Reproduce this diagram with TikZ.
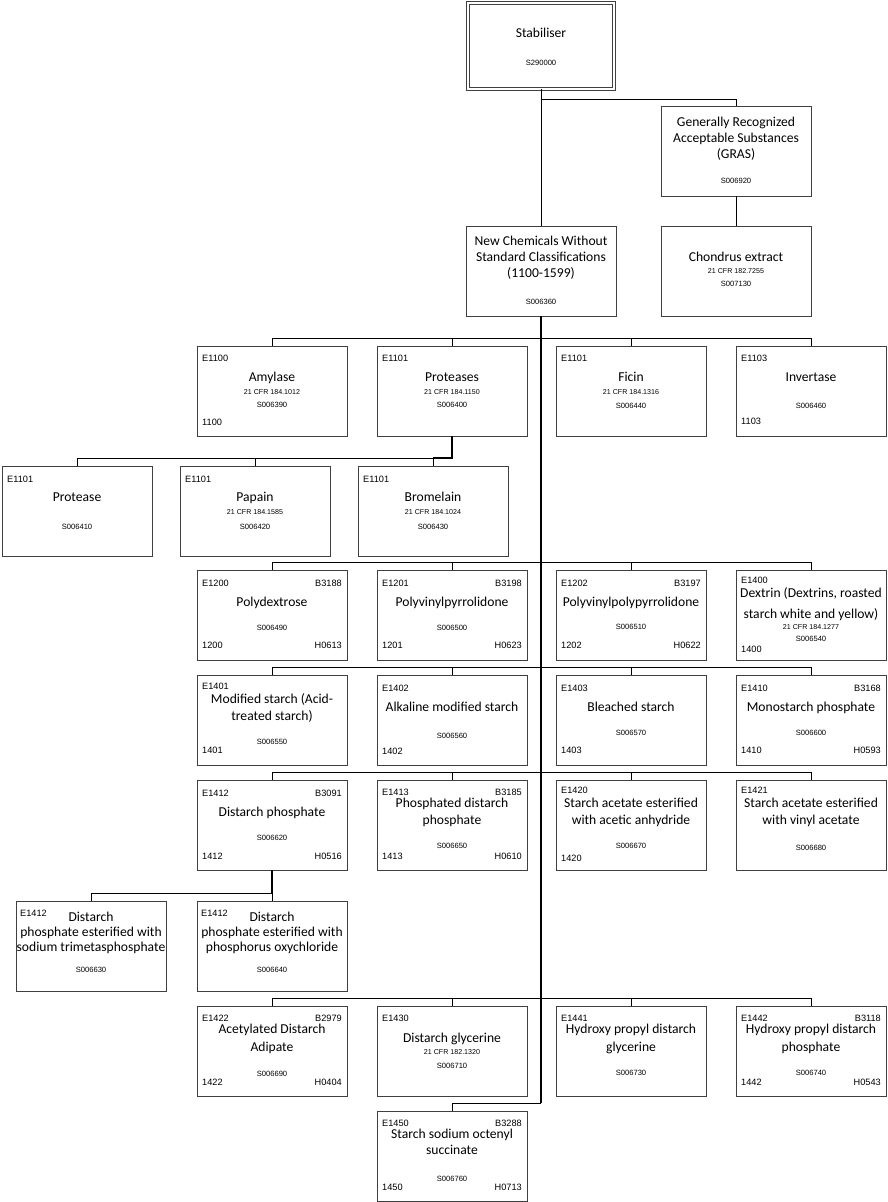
\documentclass[tikz,border=0pt]{standalone}
\usepackage{fontspec}
\newfontfamily\carl{Carlito}
\newfontfamily\ars{Liberation Sans}
\usetikzlibrary{calc}
\tikzset{
  cb/.style={draw=black!75, line width=0.9pt, fill=white, minimum width=150pt, minimum height=90pt, inner sep=0pt, outer sep=0pt, anchor=north west},
  conn/.style={draw=black, line width=0.9pt},
  trunk/.style={draw=black, line width=1.9pt},
  nm/.style={font=\carl\fontsize{13.6}{16}\selectfont, inner sep=0pt, text height=8.7pt, text depth=0pt, text=black},
  cd/.style={font=\ars\fontsize{9.2}{11}\selectfont, inner sep=0pt, text height=6.5pt, text depth=0pt},
  sc/.style={font=\ars\fontsize{7.6}{9}\selectfont, inner sep=0pt, text height=5.4pt, text depth=0pt},
  cf/.style={font=\ars\fontsize{7.1}{8}\selectfont, inner sep=0pt, text height=5.1pt, text depth=0pt}
}
\newcommand\bxBox[3]{\node[cb] (#1) at (#2,#3) {};}
\newcommand\bxTL[3]{\node[cd,anchor=west] (#1-tl) at ([shift={(5pt,-#2pt)}]#1.north west) {#3};}
\newcommand\bxTR[3]{\node[cd,anchor=east] (#1-tr) at ([shift={(-5pt,-#2pt)}]#1.north east) {#3};}
\newcommand\bxBL[3]{\node[cd,anchor=west] (#1-bl) at ([shift={(5pt,-#2pt)}]#1.north west) {#3};}
\newcommand\bxBR[3]{\node[cd,anchor=east] (#1-br) at ([shift={(-5pt,-#2pt)}]#1.north east) {#3};}
\newcommand\bxNm[4]{\node[nm] (#1-n#2) at ([yshift=-#3pt]#1.north) {#4};}
\newcommand\bxSc[3]{\node[sc] (#1-s) at ([yshift=-#2pt]#1.north) {#3};}
\newcommand\bxCf[3]{\node[cf] (#1-c) at ([yshift=-#2pt]#1.north) {#3};}
\begin{document}
\begin{tikzpicture}[x=1pt,y=-1pt]
\useasboundingbox (0,0) rectangle (887,1202);
\fill[white] (0,0) rectangle (887,1202);

% top
\node[draw=black!75, double, double distance=1.8pt, line width=0.9pt, fill=white, minimum width=146.4pt, minimum height=86.4pt, inner sep=0pt, outer sep=0pt] (stab) at (541,46) {};
\node[nm] (stab-n) at (541,33) {Stabiliser};
\node[sc] (stab-s) at (541,63) {S290000};

\node[cb] (gras) at (661,106) {};
\bxNm{gras}{1}{16}{Generally Recognized}
\bxNm{gras}{2}{32}{Acceptable Substances}
\bxNm{gras}{3}{48}{(GRAS)}
\bxSc{gras}{75}{S006920}

\node[cb] (chon) at (661,226) {};
\bxNm{chon}{1}{31}{Chondrus extract}
\bxCf{chon}{45}{21 CFR 182.7255}
\bxSc{chon}{58}{S007130}

\node[cb] (nc) at (466,226) {};
\bxNm{nc}{1}{15}{New Chemicals Without}
\bxNm{nc}{2}{31}{Standard Classifications}
\bxNm{nc}{3}{47}{(1100-1599)}
\bxSc{nc}{76}{S006360}

% row 1
\bxBox{a1}{197}{346}
\bxTL{a1}{12}{E1100}\bxNm{a1}{1}{31}{Amylase}\bxCf{a1}{46}{21 CFR 184.1012}\bxSc{a1}{59}{S006390}\bxBL{a1}{76}{1100}
\bxBox{b1}{377}{346}
\bxTL{b1}{12}{E1101}\bxNm{b1}{1}{31}{Proteases}\bxCf{b1}{46}{21 CFR 184.1150}\bxSc{b1}{59}{S006400}
\bxBox{c1}{556}{346}
\bxTL{c1}{12}{E1101}\bxNm{c1}{1}{31}{Ficin}\bxCf{c1}{46}{21 CFR 184.1316}\bxSc{c1}{60}{S006440}
\bxBox{d1}{736}{346}
\bxTL{d1}{12}{E1103}\bxNm{d1}{1}{31}{Invertase}\bxSc{d1}{60}{S006460}\bxBL{d1}{75}{1103}

% protease children
\bxBox{p1}{2}{466}
\bxTL{p1}{13}{E1101}\bxNm{p1}{1}{31}{Protease}\bxSc{p1}{61}{S006410}
\bxBox{p2}{180}{466}
\bxTL{p2}{13}{E1101}\bxNm{p2}{1}{31}{Papain}\bxCf{p2}{46}{21 CFR 184.1585}\bxSc{p2}{61}{S006420}
\bxBox{p3}{358}{466}
\bxTL{p3}{13}{E1101}\bxNm{p3}{1}{31}{Bromelain}\bxCf{p3}{46}{21 CFR 184.1024}\bxSc{p3}{61}{S006430}

% row 2
\bxBox{a2}{197}{570}
\bxTL{a2}{13}{E1200}\bxTR{a2}{13}{B3188}\bxNm{a2}{1}{32}{Polydextrose}\bxSc{a2}{58}{S006490}\bxBL{a2}{75}{1200}\bxBR{a2}{75}{H0613}
\bxBox{b2}{377}{570}
\bxTL{b2}{13}{E1201}\bxTR{b2}{13}{B3198}\bxNm{b2}{1}{32}{Polyvinylpyrrolidone}\bxSc{b2}{58}{S006500}\bxBL{b2}{75}{1201}\bxBR{b2}{75}{H0623}
\bxBox{c2}{556}{570}
\bxTL{c2}{13}{E1202}\bxTR{c2}{13}{B3197}\bxNm{c2}{1}{32}{Polyvinylpolypyrrolidone}\bxSc{c2}{57}{S006510}\bxBL{c2}{75}{1202}\bxBR{c2}{75}{H0622}
\bxBox{d2}{736}{570}
\bxTL{d2}{10}{E1400}\bxNm{d2}{1}{23}{Dextrin (Dextrins, roasted}\bxNm{d2}{2}{44}{starch white and yellow)}\bxCf{d2}{57}{21 CFR 184.1277}\bxSc{d2}{69}{S006540}\bxBL{d2}{79}{1400}

% row 3
\bxBox{a3}{197}{675}
\bxTL{a3}{11}{E1401}\bxNm{a3}{1}{24}{Modified starch (Acid-}\bxNm{a3}{2}{41}{treated starch)}\bxSc{a3}{67}{S006550}\bxBL{a3}{75}{1401}
\bxBox{b3}{377}{675}
\bxTL{b3}{13}{E1402}\bxNm{b3}{1}{32}{Alkaline modified starch}\bxSc{b3}{61}{S006560}\bxBL{b3}{76}{1402}
\bxBox{c3}{556}{675}
\bxTL{c3}{13}{E1403}\bxNm{c3}{1}{32}{Bleached starch}\bxSc{c3}{58}{S006570}\bxBL{c3}{75}{1403}
\bxBox{d3}{736}{675}
\bxTL{d3}{13}{E1410}\bxTR{d3}{13}{B3168}\bxNm{d3}{1}{32}{Monostarch phosphate}\bxSc{d3}{58}{S006600}\bxBL{d3}{75}{1410}\bxBR{d3}{75}{H0593}

% row 4
\bxBox{a4}{197}{780}
\bxTL{a4}{13}{E1412}\bxTR{a4}{13}{B3091}\bxNm{a4}{1}{32}{Distarch phosphate}\bxSc{a4}{58}{S006620}\bxBL{a4}{76}{1412}\bxBR{a4}{76}{H0516}
\bxBox{b4}{377}{780}
\bxTL{b4}{12}{E1413}\bxTR{b4}{12}{B3185}\bxNm{b4}{1}{23}{Phosphated distarch}\bxNm{b4}{2}{40}{phosphate}\bxSc{b4}{66}{S006650}\bxBL{b4}{76}{1413}\bxBR{b4}{76}{H0610}
\bxBox{c4}{556}{780}
\bxTL{c4}{10}{E1420}\bxNm{c4}{1}{23}{Starch acetate esterified}\bxNm{c4}{2}{40}{with acetic anhydride}\bxSc{c4}{66}{S006670}\bxBL{c4}{78}{1420}
\bxBox{d4}{736}{780}
\bxTL{d4}{10}{E1421}\bxNm{d4}{1}{23}{Starch acetate esterified}\bxNm{d4}{2}{40}{with vinyl acetate}\bxSc{d4}{68}{S006680}

% distarch children
\bxBox{q1}{16}{901}
\node[cd,anchor=west] (q1-tl) at ([shift={(4pt,-12pt)}]q1.north west) {E1412};
\bxNm{q1}{1}{16}{Distarch}\bxNm{q1}{2}{31}{phosphate esterified with}\bxNm{q1}{3}{46}{sodium trimetasphosphate}\bxSc{q1}{69}{S006630}
\bxBox{q2}{197}{901}
\node[cd,anchor=west] (q2-tl) at ([shift={(4pt,-12pt)}]q2.north west) {E1412};
\bxNm{q2}{1}{16}{Distarch}\bxNm{q2}{2}{31}{phosphate esterified with}\bxNm{q2}{3}{46}{phosphorus oxychloride}\bxSc{q2}{69}{S006640}

% row 5
\bxBox{a5}{197}{1006}
\bxTL{a5}{12}{E1422}\bxTR{a5}{12}{B2979}\bxNm{a5}{1}{23}{Acetylated Distarch}\bxNm{a5}{2}{41}{Adipate}\bxSc{a5}{68}{S006690}\bxBL{a5}{76}{1422}\bxBR{a5}{76}{H0404}
\bxBox{b5}{377}{1006}
\bxTL{b5}{12}{E1430}\bxNm{b5}{1}{32}{Distarch glycerine}\bxCf{b5}{46}{21 CFR 182.1320}\bxSc{b5}{60}{S006710}
\bxBox{c5}{556}{1006}
\bxTL{c5}{12}{E1441}\bxNm{c5}{1}{23}{Hydroxy propyl distarch}\bxNm{c5}{2}{41}{glycerine}\bxSc{c5}{67}{S006730}
\bxBox{d5}{736}{1006}
\bxTL{d5}{12}{E1442}\bxTR{d5}{12}{B3118}\bxNm{d5}{1}{23}{Hydroxy propyl distarch}\bxNm{d5}{2}{41}{phosphate}\bxSc{d5}{67}{S006740}\bxBL{d5}{76}{1442}\bxBR{d5}{76}{H0543}

% row 6
\bxBox{r6}{377}{1111}
\bxTL{r6}{12}{E1450}\bxTR{r6}{12}{B3288}\bxNm{r6}{1}{23}{Starch sodium octenyl}\bxNm{r6}{2}{39}{succinate}\bxSc{r6}{68}{S006760}\bxBL{r6}{76}{1450}\bxBR{r6}{76}{H0713}

% connectors
\draw[conn] (stab.south) -- (nc.north);
\draw[conn] (stab.south |- 0,99) -| (gras.north);
\draw[conn] (gras.south) -- (chon.north);
\coordinate (t6) at (541,1103);
\draw[trunk] (nc.south) -- (t6);
\draw[conn] (t6) -| (r6.north);

\draw[conn] (a1.north) -- ++(0,-8) -| (d1.north);
\draw[conn] (b1.north) -- ++(0,-8);
\draw[conn] (c1.north) -- ++(0,-8);

\draw[trunk] (b1.south) |- ([yshift=8pt]p3.north);
\draw[conn] (p1.north) -- ++(0,-8) -| (p3.north);
\draw[conn] (p2.north) -- ++(0,-8);

\draw[conn] (a2.north) -- ++(0,-8) -| (d2.north);
\draw[conn] (b2.north) -- ++(0,-8);
\draw[conn] (c2.north) -- ++(0,-8);

\draw[conn] (a3.north) -- ++(0,-8) -| (d3.north);
\draw[conn] (b3.north) -- ++(0,-8);
\draw[conn] (c3.north) -- ++(0,-8);

\draw[conn] (a4.north) -- ++(0,-8) -| (d4.north);
\draw[conn] (b4.north) -- ++(0,-8);
\draw[conn] (c4.north) -- ++(0,-8);

\draw[trunk] (a4.south) -- ([yshift=8pt]q2.north);
\draw[conn] (q1.north) -- ++(0,-8) -| (q2.north);

\draw[conn] (a5.north) -- ++(0,-8) -| (d5.north);
\draw[conn] (b5.north) -- ++(0,-8);
\draw[conn] (c5.north) -- ++(0,-8);
\end{tikzpicture}
\end{document}
